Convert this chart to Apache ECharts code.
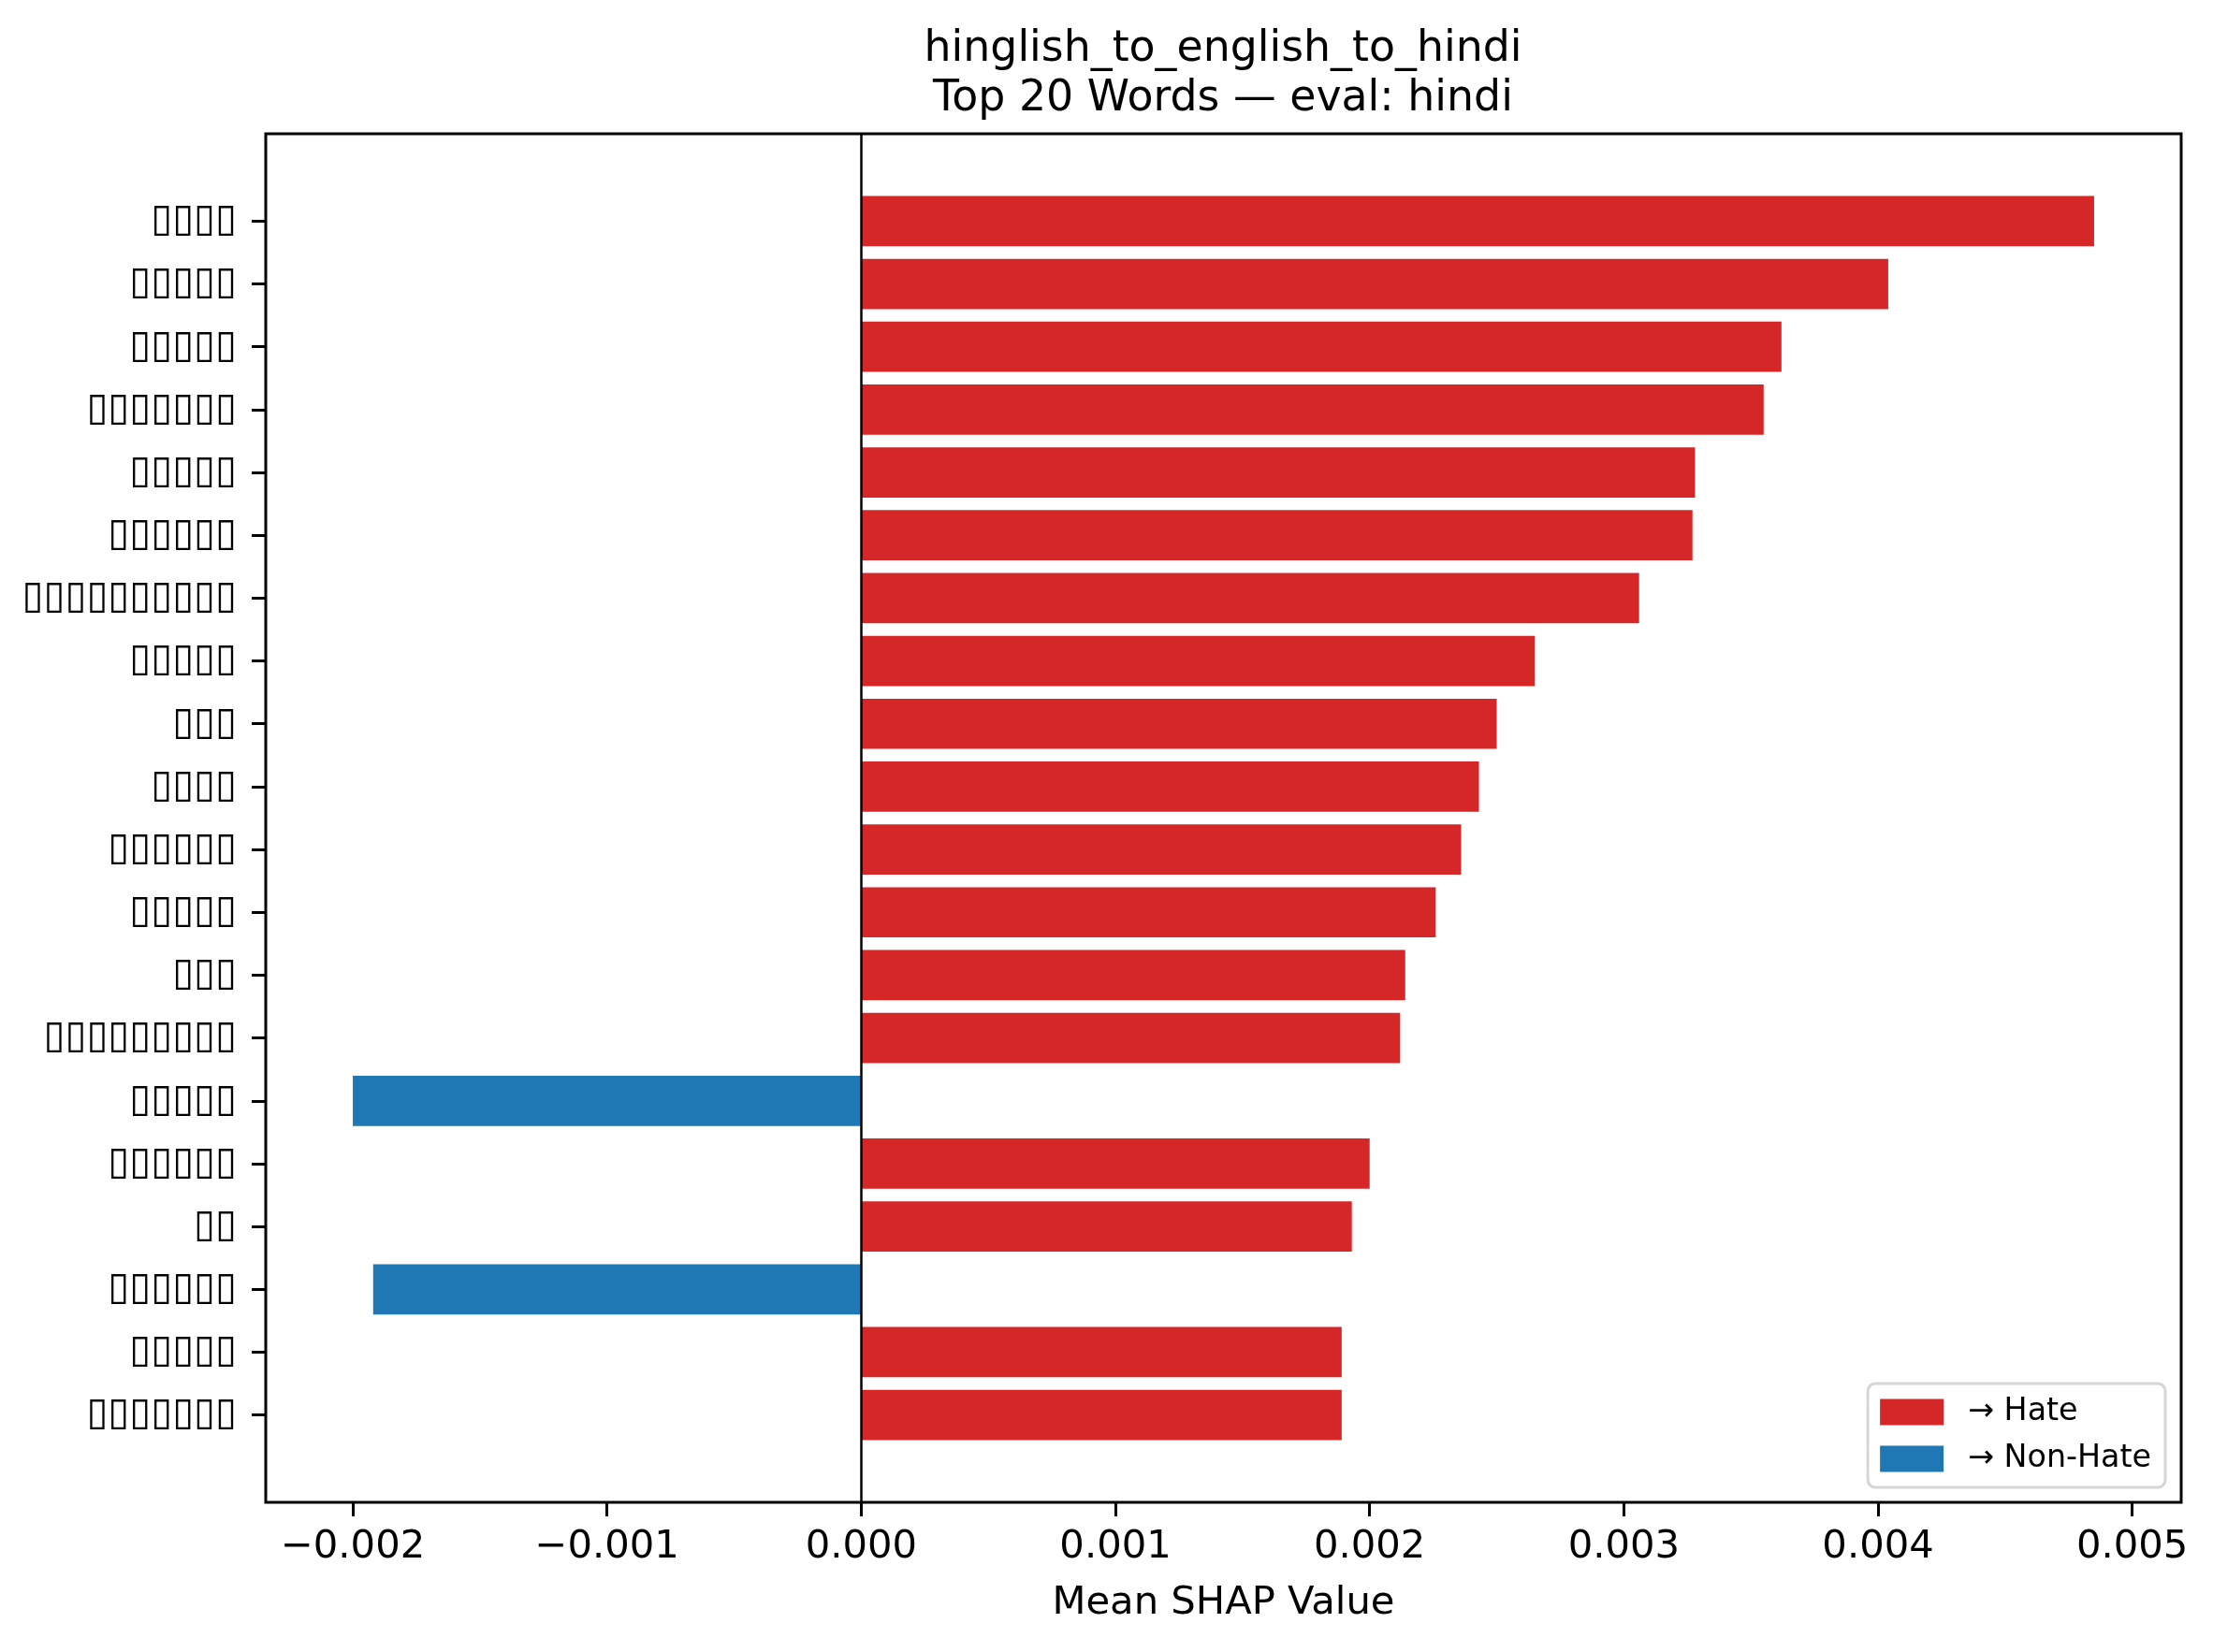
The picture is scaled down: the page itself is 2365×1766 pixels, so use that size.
<!DOCTYPE html>
<html>
<head>
<meta charset="utf-8">
<script src="https://cdn.jsdelivr.net/npm/echarts@6/dist/echarts.min.js"></script>
<style>
  html, body { margin: 0; padding: 0; background: #fff; }
  #chart { width: 2365px; height: 1766px; }
</style>
</head>
<body>
<div id="chart"></div>
<script>
// words (glyphs missing in the source render, shown as boxes)
const words = [
  '▯▯▯▯', '▯▯▯▯▯', '▯▯▯▯▯', '▯▯▯▯▯▯▯', '▯▯▯▯▯',
  '▯▯▯▯▯▯', '▯▯▯▯▯▯▯▯▯▯', '▯▯▯▯▯', '▯▯▯', '▯▯▯▯',
  '▯▯▯▯▯▯', '▯▯▯▯▯', '▯▯▯', '▯▯▯▯▯▯▯▯▯', '▯▯▯▯▯',
  '▯▯▯▯▯▯', '▯▯', '▯▯▯▯▯▯', '▯▯▯▯▯', '▯▯▯▯▯▯▯'
];
// mean SHAP value per word
const shapValues = [
  0.00485, 0.00404, 0.00362, 0.00355, 0.00328,
  0.00327, 0.00306, 0.00265, 0.00250, 0.00243,
  0.00236, 0.00226, 0.00214, 0.00212, -0.00200,
  0.00200, 0.00193, -0.00192, 0.00189, 0.00189
];
const xTicks = [-0.002, -0.001, 0, 0.001, 0.002, 0.003, 0.004, 0.005];
const xMin = -0.0023425;
const xMax = 0.0051925;

const hateColor = '#d62728';
const nonHateColor = '#1f77b4';
const font = 'DejaVu Sans';

const hateData = shapValues.map(v => (v > 0 ? v : '-'));
const nonHateData = shapValues.map(v => (v < 0 ? v : '-'));

const chart = echarts.init(document.getElementById('chart'), null, { renderer: 'canvas' });

const fmt = v => {
  const s = Math.abs(v).toFixed(3);
  return v < -1e-12 ? '\u2212' + s : s;
};

chart.setOption({
  backgroundColor: '#fff',
  animation: false,
  title: {
    text: 'hinglish_to_english_to_hindi\nTop 20 Words \u2014 eval: hindi',
    left: 1307,
    top: 27,
    textAlign: 'center',
    padding: 0,
    textStyle: {
      fontFamily: font,
      fontSize: 45.8,
      fontWeight: 'normal',
      color: '#000',
      lineHeight: 53
    }
  },
  legend: {
    orient: 'vertical',
    right: 51,
    bottom: 176,
    padding: [14, 15, 14, 13],
    backgroundColor: '#fff',
    borderColor: '#d6d6d6',
    borderWidth: 3,
    borderRadius: 8,
    itemWidth: 68,
    itemHeight: 28,
    itemGap: 17,
    icon: 'rect',
    data: ['\u2192 Hate', '\u2192 Non-Hate'],
    textStyle: {
      fontFamily: font,
      fontSize: 33.3,
      lineHeight: 28,
      color: '#000',
      padding: [0, 0, 0, 21]
    }
  },
  grid: [
    // frame (axes box)
    {
      left: 284, top: 143, width: 2047, height: 1463,
      show: true, borderColor: '#000', borderWidth: 3,
      backgroundColor: 'transparent'
    },
    // bars area (categories inset by matplotlib's margins)
    { left: 284, top: 202.8, width: 2047, height: 1343.4 }
  ],
  xAxis: [
    {
      gridIndex: 0,
      type: 'value',
      min: xMin,
      max: xMax,
      position: 'bottom',
      splitLine: { show: false },
      axisLine: { show: false, onZero: false },
      axisTick: {
        show: true, length: 15, inside: false,
        lineStyle: { color: '#000', width: 3 },
        customValues: xTicks
      },
      axisLabel: {
        customValues: xTicks,
        formatter: fmt,
        margin: 27,
        fontFamily: font,
        fontSize: 41.7,
        color: '#000'
      },
      name: 'Mean SHAP Value',
      nameLocation: 'middle',
      nameGap: 87,
      nameTextStyle: { fontFamily: font, fontSize: 41.7, color: '#000' }
    },
    {
      gridIndex: 1,
      type: 'value',
      min: xMin,
      max: xMax,
      show: false,
      axisLine: { onZero: false },
      splitLine: { show: false }
    }
  ],
  yAxis: [
    {
      gridIndex: 0,
      type: 'value',
      min: 0,
      max: 1,
      show: false,
      axisLine: { onZero: false },
      splitLine: { show: false }
    },
    {
      gridIndex: 1,
      type: 'category',
      inverse: true,
      position: 'left',
      data: words,
      axisLine: { show: false, onZero: false },
      axisTick: {
        show: true, length: 15, alignWithLabel: true,
        lineStyle: { color: '#000', width: 3 }
      },
      axisLabel: {
        margin: 31,
        fontFamily: font,
        fontSize: 41.7,
        color: '#000'
      },
      splitLine: { show: false }
    }
  ],
  series: [
    {
      name: '\u2192 Hate',
      type: 'bar',
      xAxisIndex: 1,
      yAxisIndex: 1,
      data: hateData,
      barWidth: '80%',
      barGap: '-100%',
      itemStyle: { color: hateColor }
    },
    {
      name: '\u2192 Non-Hate',
      type: 'bar',
      xAxisIndex: 1,
      yAxisIndex: 1,
      data: nonHateData,
      barWidth: '80%',
      barGap: '-100%',
      itemStyle: { color: nonHateColor }
    },
    {
      // zero reference line across the whole axes box
      type: 'line',
      xAxisIndex: 0,
      yAxisIndex: 0,
      data: [],
      z: 10,
      markLine: {
        silent: true,
        symbol: 'none',
        label: { show: false },
        lineStyle: { color: '#000', width: 2.5, type: 'solid' },
        data: [{ xAxis: 0 }]
      }
    }
  ]
});
</script>
</body>
</html>
